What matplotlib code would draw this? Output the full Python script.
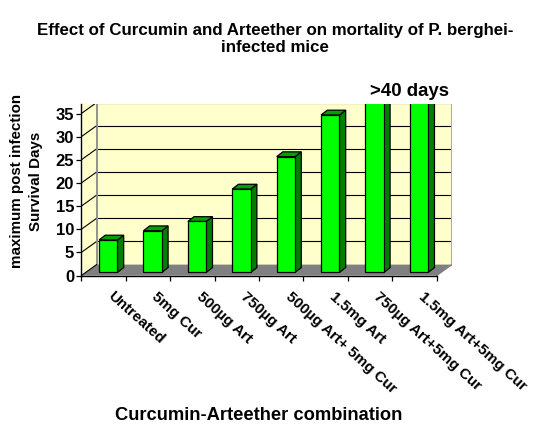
import matplotlib
matplotlib.use("Agg")
import matplotlib.pyplot as plt
from matplotlib.patches import Polygon

categories = ["Untreated", "5mg Cur", "500µg Art", "750µg Art", "500µg Art+ 5mg Cur",
              "1.5mg Art", "750µg Art+5mg Cur", "1.5mg Art+5mg Cur"]
survival_days = [7, 9, 11, 18, 25, 34, 40, 40]
y_ticks = [0, 5, 10, 15, 20, 25, 30, 35]

plt.rcParams['font.family'] = ['Liberation Sans', 'DejaVu Sans']
plt.rcParams['font.weight'] = 'bold'

W, H = 548, 424
fig = plt.figure(figsize=(W / 100, H / 100), dpi=100, facecolor='white')
L, R, T, B = 81.3, 452, 104, 275.6
ax = fig.add_axes([L / W, 1 - B / H, (R - L) / W, (B - T) / H])
cat_px = 44.4
unit_px = 4.63
ax.set_xlim(0, (R - L) / cat_px)
ax.set_ylim(0, (B - T) / unit_px)
ymax = (B - T) / unit_px
ax.patch.set_visible(False)

dx = 15.3 / cat_px
dy = 11 / unit_px
n = len(categories)

# walls and floor
ax.add_patch(Polygon([(0, 0), (dx, dy), (dx, ymax), (0, ymax)], fc='#FFFFCC', ec='none', zorder=1))
ax.add_patch(Polygon([(dx, dy), (n + dx, dy), (n + dx, ymax), (dx, ymax)], fc='#FFFFCC', ec='none', zorder=1))
ax.add_patch(Polygon([(0, 0), (n, 0), (n + dx, dy), (dx, dy)], fc='#808080', ec='none', zorder=2))

# gridlines
for v in y_ticks[1:]:
    ax.plot([0, dx], [v, v + dy], color='black', lw=0.8, zorder=3, solid_capstyle='butt')
    ax.plot([dx, n + dx], [v + dy, v + dy], color='black', lw=0.8, zorder=3, solid_capstyle='butt')
ax.plot([dx, dx], [dy, ymax], color='#808080', lw=1.2, zorder=3)
ax.plot([n + dx, n + dx], [dy, ymax], color='#B0B0A0', lw=1.5, zorder=3)
ax.plot([0, dx], [0, dy], color='black', lw=0.8, zorder=3)
ax.plot([n, n + dx], [0, dy], color='#808080', lw=1, zorder=3)

# 3D bars
left, width = 0.40, 0.415
bdx = 6.2 / cat_px
bdy = 4.8 / unit_px
base = 3.2 / unit_px
for i, val in enumerate(survival_days):
    x0 = i + left
    x1 = x0 + width
    y0 = base
    y1 = base + val
    kw = dict(ec='black', lw=0.9, joinstyle='miter', zorder=5 + i * 0.01)
    ax.add_patch(Polygon([(x1, y0), (x1 + bdx, y0 + bdy), (x1 + bdx, y1 + bdy), (x1, y1)], fc='#008000', **kw))
    ax.add_patch(Polygon([(x0, y1), (x1, y1), (x1 + bdx, y1 + bdy), (x0 + bdx, y1 + bdy)], fc='#00A000', **kw))
    ax.add_patch(Polygon([(x0, y0), (x1, y0), (x1, y1), (x0, y1)], fc='#00FF00', **kw))

# axes
for s in ('top', 'right'):
    ax.spines[s].set_visible(False)
ax.spines['left'].set_bounds(0, ymax)
ax.spines['bottom'].set_bounds(0, n)
for s in ('left', 'bottom'):
    ax.spines[s].set_linewidth(1.0)
    ax.spines[s].set_zorder(6)
ax.set_yticks(y_ticks)
ax.set_yticklabels([str(v) for v in y_ticks], fontsize=12, fontweight='bold')
ax.tick_params(axis='y', length=3.6, width=0.9, pad=1.5)
ax.set_xticks(range(n + 1))
ax.set_xticklabels([])
ax.tick_params(axis='x', length=3.6, width=0.9)

for i, c in enumerate(categories):
    ax.annotate(c, xy=(i + 0.5, 0), xycoords='data', xytext=(4.5, -13.5), textcoords='offset points',
                rotation=-42, rotation_mode='anchor', ha='left', va='center',
                fontsize=10.9, fontweight='bold', annotation_clip=False)

def px(x, y):
    return x / W, 1 - y / H

fig.text(*px(275, 39), "Effect of Curcumin and Arteether on mortality of P. berghei-\ninfected mice",
         ha='center', va='center', fontsize=12.2, fontweight='bold', linespacing=1.15)
fig.text(*px(409.5, 91.5), ">40 days", ha='center', va='center', fontsize=13.4, fontweight='bold')
fig.text(*px(26.5, 181), "maximum post infection\nSurvival Days", rotation=90, ha='center', va='center',
         multialignment='center', fontsize=10.9, fontweight='bold', linespacing=1.4)
fig.text(*px(259, 416), "Curcumin-Arteether combination", ha='center', va='center', fontsize=13.2, fontweight='bold')

fig.savefig("out.png", dpi=100)
